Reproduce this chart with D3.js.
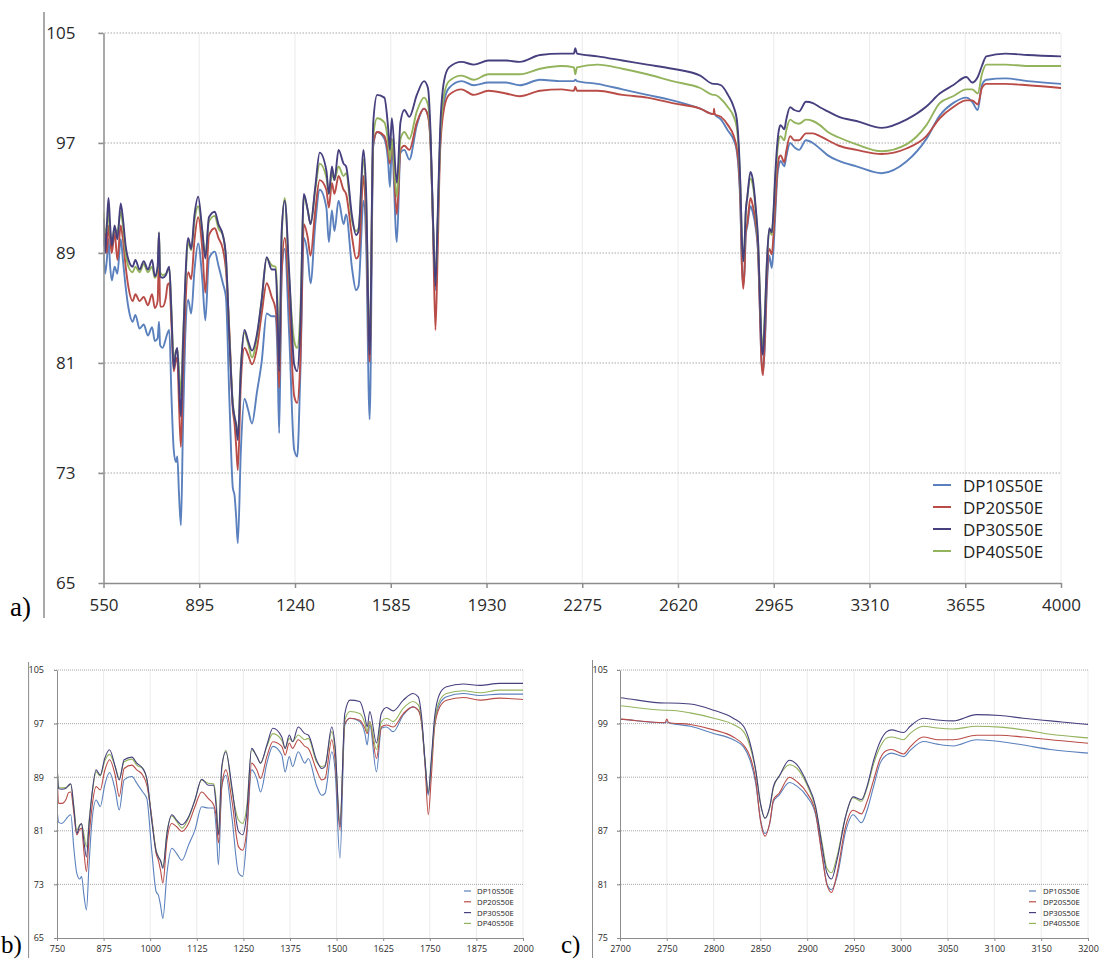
<!DOCTYPE html>
<html><head><meta charset="utf-8">
<script src="https://cdn.jsdelivr.net/npm/d3@7"></script>
<style>body{margin:0;background:#fff;} svg{display:block;}</style>
</head><body>
<svg id="chart" width="1099" height="961"></svg>
<script>
// ---------- DATA ----------
const wavenumber = [550,556,562,568,574,580,590,600,612,620,630,640,655,665,680,695,710,725,735,745,
 750,754,763,775,781,787,795,803,811,816,822,829,836,844,855,866,878,891,906,917,930,951,964,980,991,
 1004,1016,1022,1028,1034,1045,1058,1071,1085,1103,1120,1138,1156,1170,1177,1183,1192,1203,1219,1237,1248,1259,
 1272,1286,1296,1313,1329,1353,1362,1373,1382,1397,1415,1424,1446,1460,1469,1487,1496,1509,1522,1536,1562,1576,
 1582,1589,1607,1620,1634,1652,1679,1705,1719,1728,1737,1746,1754,1763,1777,1795,1840,1884,1937,2000,2050,2123,
 2200,2245,2250,2256,2330,2420,2509,2600,2700,2748,2750,2752,2775,2800,2821,2832,2839,2845,2850,2855,2860,2864,
 2870,2881,2889,2900,2909,2916,2921,2926,2932,2941,2949,2958,2964,2971,2978,2985,2990,3003,3010,3024,3039,3056,
 3081,3106,3131,3160,3200,3263,3354,3443,3515,3563,3611,3659,3680,3700,3715,3731,3800,3880,4000];
const dp10 = [89.0,87.5,88.5,90.0,88.0,87.0,88.0,87.5,90.0,88.5,86.5,85.0,84.0,84.5,83.5,83.8,83.0,83.6,82.6,82.8,
 84.0,82.3,82.1,82.8,83.2,83.4,78.5,74.7,73.8,74.2,71.5,69.2,76.0,82.6,85.6,84.6,87.8,89.7,87.1,84.1,88.6,89.1,88.1,86.8,85.8,
 78.1,71.9,71.4,69.8,67.9,74.7,78.4,77.6,76.6,78.9,81.1,84.6,84.4,84.4,81.4,75.9,87.6,89.3,83.1,74.7,74.2,80.1,
 90.1,88.8,86.8,91.1,93.6,92.3,89.8,92.1,90.6,92.8,91.1,91.8,87.8,86.3,86.6,92.8,90.0,76.9,96.8,97.8,97.3,95.5,
 93.8,96.8,89.8,96.3,96.5,95.8,98.3,99.5,99.0,97.3,91.3,86.3,91.0,97.0,100.0,101.0,101.5,101.2,101.4,101.4,101.2,101.6,
 101.5,101.5,101.6,101.5,101.3,100.9,100.5,100.1,99.5,99.1,99.2,99.1,98.7,97.9,97.2,96.4,94.9,92.3,88.3,86.7,87.8,90.3,
 91.0,92.4,92.0,90.8,88.8,84.3,81.1,80.4,81.9,86.9,88.8,87.9,89.3,92.0,94.6,95.5,95.7,95.3,96.0,97.0,96.7,96.5,
 97.2,97.0,96.6,96.1,95.7,95.3,94.8,95.65,97.3,99.0,99.9,100.3,100.0,99.4,101.2,101.6,101.7,101.5,101.3];
const dp20 = [89.5,90.5,89.0,91.0,90.0,89.0,90.5,88.5,91.0,90.0,88.0,86.5,85.5,86.0,85.5,85.8,85.2,86.0,85.0,85.5,
 89.0,85.1,85.1,85.8,86.7,86.8,83.8,80.4,81.2,81.4,78.0,74.9,80.0,84.6,87.6,87.1,90.0,91.6,89.3,86.1,90.3,90.8,90.1,89.3,87.8,
 83.1,77.6,76.6,75.0,73.2,79.6,82.1,81.6,80.9,82.1,84.6,86.8,85.8,84.9,83.1,79.2,87.6,90.1,85.6,78.6,78.1,81.1,
 91.1,90.1,88.8,92.1,94.3,93.6,92.3,94.1,93.3,94.6,93.6,93.3,90.1,88.6,88.8,94.6,91.5,81.1,97.0,97.8,97.5,96.3,
 95.5,97.3,91.8,96.5,96.8,96.5,98.5,99.5,99.0,97.0,91.1,83.4,89.0,96.5,99.5,100.5,100.9,100.5,100.8,100.6,100.4,100.8,
 100.9,100.8,101.1,100.8,100.8,100.5,100.3,99.9,99.5,99.1,99.5,99.1,98.9,98.3,97.5,96.6,95.3,92.7,88.2,86.4,87.9,90.5,
 91.2,93.0,92.5,91.2,89.0,84.1,81.0,80.1,82.3,87.5,89.3,88.9,90.3,92.7,95.1,96.0,96.1,95.6,96.4,97.5,97.2,97.2,
 97.7,97.7,97.5,97.2,96.8,96.5,96.2,96.6,97.5,98.8,99.6,100.1,100.1,99.8,101.0,101.3,101.3,101.2,101.0];
const dp30 = [91.5,89.0,91.0,93.0,91.0,89.5,91.0,90.0,92.6,91.5,89.5,88.5,88.0,88.5,87.8,88.4,87.8,88.5,87.3,88.0,
 90.5,87.3,87.2,87.4,87.8,88.0,84.5,80.6,81.8,82.1,79.5,77.1,82.0,86.6,90.1,89.3,91.8,93.1,90.6,88.6,91.6,92.0,91.1,90.3,88.8,
 82.6,77.9,77.1,76.5,75.4,80.6,83.4,82.6,81.9,83.1,85.6,88.7,87.8,87.8,84.6,80.4,90.6,92.8,87.6,80.9,80.4,83.6,
 93.3,92.1,91.1,93.8,96.3,95.0,93.3,95.3,94.3,96.5,95.5,95.3,91.6,90.3,90.6,96.5,93.6,81.6,98.5,100.5,100.3,98.0,
 96.5,98.8,94.1,98.5,99.4,98.9,100.5,101.5,101.0,98.0,91.6,86.6,91.6,98.0,101.5,102.5,102.9,102.7,103.0,103.0,102.9,103.4,
 103.5,103.5,103.9,103.5,103.3,103.0,102.7,102.4,101.9,101.3,101.3,101.3,101.2,100.5,99.6,98.7,96.8,93.8,90.1,88.4,89.7,92.0,
 93.1,94.9,94.4,92.3,89.7,85.2,82.3,81.6,83.8,88.6,90.8,90.5,92.0,94.9,97.0,98.1,98.3,98.0,98.7,99.6,99.4,99.3,
 100.0,99.9,99.6,99.3,98.9,98.6,98.1,98.7,99.65,100.6,101.2,101.8,101.4,101.8,102.6,103.3,103.5,103.4,103.3];
const dp40 = [92.0,90.5,90.8,92.0,90.5,89.8,90.8,90.5,92.0,91.0,89.0,88.0,87.6,88.0,87.6,88.2,87.6,88.0,87.2,87.8,
 90.5,87.6,87.4,87.5,87.7,87.9,84.8,81.1,81.9,82.0,80.5,78.6,82.5,86.4,89.8,89.2,91.4,92.4,90.6,88.8,91.3,91.7,90.8,90.3,88.6,
 82.8,78.1,77.1,76.5,75.6,80.8,83.2,82.4,81.4,82.9,85.6,88.6,88.1,88.0,85.5,80.6,90.1,93.0,87.1,82.6,82.1,84.6,
 93.1,92.1,91.1,93.6,95.5,94.5,93.3,94.8,94.3,95.3,94.6,94.8,91.3,90.6,90.8,95.8,93.0,82.1,97.5,98.8,98.5,97.0,
 95.8,97.3,93.1,97.3,97.8,97.3,99.3,100.3,99.8,97.5,91.5,86.8,91.0,97.3,100.5,101.5,101.9,101.6,102.0,102.0,102.0,102.4,
 102.6,102.5,102.0,102.5,102.7,102.4,102.0,101.5,101.0,100.5,100.5,100.5,100.2,99.6,98.9,98.1,96.4,93.7,90.1,88.4,89.6,91.8,
 93.1,94.4,94.0,92.1,89.5,85.6,82.8,82.3,84.2,88.6,90.7,90.3,91.8,94.5,96.4,97.4,97.5,97.2,97.9,98.7,98.5,98.4,
 98.7,98.6,98.3,97.8,97.4,96.9,96.4,96.9,98.3,99.9,100.4,100.9,100.9,100.6,102.0,102.7,102.7,102.6,102.6];

const seriesNames = ["DP10S50E", "DP20S50E", "DP30S50E", "DP40S50E"];
const seriesValues = [dp10, dp20, dp30, dp40];
const seriesColors = ["#5a80bd", "#b94c47", "#46407e", "#93b35c"];
const drawOrder = [0, 1, 3, 2];

const panelATicksX = [550, 895, 1240, 1585, 1930, 2275, 2620, 2965, 3310, 3655, 4000];
const panelATicksY = [65, 73, 81, 89, 97, 105];
const panelBTicksX = [750, 875, 1000, 1125, 1250, 1375, 1500, 1625, 1750, 1875, 2000];
const panelBTicksY = [65, 73, 81, 89, 97, 105];
const panelCTicksX = [2700, 2750, 2800, 2850, 2900, 2950, 3000, 3050, 3100, 3150, 3200];
const panelCTicksY = [75, 81, 87, 93, 99, 105];

// ---------- DRAW ----------
const svg = d3.select("#chart");
const FONT = "'Open Sans', 'Noto Sans', sans-serif";
const fmt = d3.format("d");

function drawPanel(p) {
  const g = svg.append("g");
  const x = d3.scaleLinear().domain([p.xTicks[0], p.xTicks[p.xTicks.length - 1]]).range([p.left, p.right]);
  const y = d3.scaleLinear().domain([p.yTicks[0], p.yTicks[p.yTicks.length - 1]]).range([p.bottom, p.top]);

  // outer frame line (left)
  g.append("line").attr("x1", p.frameX).attr("x2", p.frameX)
    .attr("y1", p.frameTop).attr("y2", p.frameBottom)
    .attr("stroke", "#8c8c8c").attr("stroke-width", p.frameW);

  // vertical grid
  g.selectAll("line.vg").data(p.xTicks.slice(1)).join("line").attr("class", "vg")
    .attr("x1", d => x(d)).attr("x2", d => x(d))
    .attr("y1", p.top).attr("y2", p.bottom)
    .attr("stroke", "#ebebeb").attr("stroke-width", 1);
  // horizontal dotted grid
  g.selectAll("line.hg").data(p.yTicks.slice(1)).join("line").attr("class", "hg")
    .attr("x1", p.left - p.tick).attr("x2", p.right)
    .attr("y1", d => y(d)).attr("y2", d => y(d))
    .attr("stroke", "#a8a8a8").attr("stroke-width", 1)
    .attr("stroke-dasharray", p.dash);

  // lines
  const clipId = "clip" + p.id;
  svg.append("clipPath").attr("id", clipId).append("rect")
    .attr("x", p.left).attr("y", p.top - 10)
    .attr("width", p.right - p.left).attr("height", p.bottom - p.top + 10);
  const lineGen = d3.line().curve(d3.curveMonotoneX);
  const lg = g.append("g").attr("clip-path", `url(#${clipId})`);
  drawOrder.forEach(si => {
    const pts = wavenumber.map((w, i) => [x(w), y(seriesValues[si][i])]);
    lg.append("path").attr("d", lineGen(pts)).attr("fill", "none")
      .attr("stroke", seriesColors[si]).attr("stroke-width", p.lineW)
      .attr("stroke-linejoin", "round");
  });

  // axes
  const ya = d3.axisLeft(y).tickValues(p.yTicks).tickFormat(fmt).tickSize(p.tick).tickSizeOuter(0).tickPadding(p.yPad);
  const xa = d3.axisBottom(x).tickValues(p.xTicks).tickFormat(fmt).tickSize(p.tick).tickSizeOuter(0).tickPadding(p.xPad);
  const yg = g.append("g").attr("transform", `translate(${p.left},0)`).call(ya);
  const xg = g.append("g").attr("transform", `translate(0,${p.bottom})`).call(xa);
  [yg, xg].forEach(a => {
    a.select(".domain").attr("stroke", "#8c8c8c").attr("stroke-width", p.axisW);
    a.selectAll(".tick line").attr("stroke", "#8c8c8c").attr("stroke-width", p.axisW);
    a.selectAll(".tick text").attr("fill", "#2a2a2a").style("font-family", FONT).style("font-size", p.font + "px");
  });

  // legend
  const leg = g.append("g");
  seriesNames.forEach((name, i) => {
    const ry = p.legY + i * p.legStep;
    leg.append("line").attr("x1", p.legX).attr("x2", p.legX + p.legSw)
      .attr("y1", ry).attr("y2", ry).attr("stroke", seriesColors[i]).attr("stroke-width", p.legLw);
    leg.append("text").attr("x", p.legX + p.legSw + p.legGap).attr("y", ry)
      .attr("dominant-baseline", "central").attr("fill", "#222")
      .style("font-family", FONT).style("font-size", p.legFont + "px").text(name);
  });

  // panel label
  g.append("text").attr("x", p.labX).attr("y", p.labY)
    .style("font-family", "'Liberation Serif', 'Times New Roman', serif")
    .style("font-size", p.labFont + "px").attr("fill", "#000").text(p.label);
}

drawPanel({
  id: "a", label: "a)", xTicks: panelATicksX, yTicks: panelATicksY,
  left: 103.5, right: 1061, top: 33, bottom: 583,
  frameX: 44, frameTop: 12, frameBottom: 618, frameW: 1.5,
  tick: 5, yPad: 23, xPad: 11, font: 17, axisW: 1.5, lineW: 1.9, dash: "1.5,1.5",
  legX: 933, legY: 485, legStep: 22, legSw: 18, legGap: 12, legFont: 17, legLw: 2,
  labX: 10, labY: 616, labFont: 27
});
drawPanel({
  id: "b", label: "b)", xTicks: panelBTicksX, yTicks: panelBTicksY,
  left: 57, right: 523, top: 670, bottom: 938,
  frameX: 28.6, frameTop: 662, frameBottom: 958, frameW: 1,
  tick: 3, yPad: 10, xPad: 5, font: 9, axisW: 1, lineW: 1.1, dash: "1,1",
  legX: 464, legY: 891, legStep: 10.8, legSw: 7, legGap: 6, legFont: 7.8, legLw: 1.2,
  labX: 1, labY: 953, labFont: 25
});
drawPanel({
  id: "c", label: "c)", xTicks: panelCTicksX, yTicks: panelCTicksY,
  left: 620, right: 1088, top: 670, bottom: 938,
  frameX: 592.5, frameTop: 660, frameBottom: 958, frameW: 1,
  tick: 3, yPad: 9, xPad: 5, font: 9, axisW: 1, lineW: 1.1, dash: "1,1",
  legX: 1029, legY: 891, legStep: 10.8, legSw: 7, legGap: 7, legFont: 7.8, legLw: 1.2,
  labX: 561, labY: 953, labFont: 25
});
</script>
</body></html>
